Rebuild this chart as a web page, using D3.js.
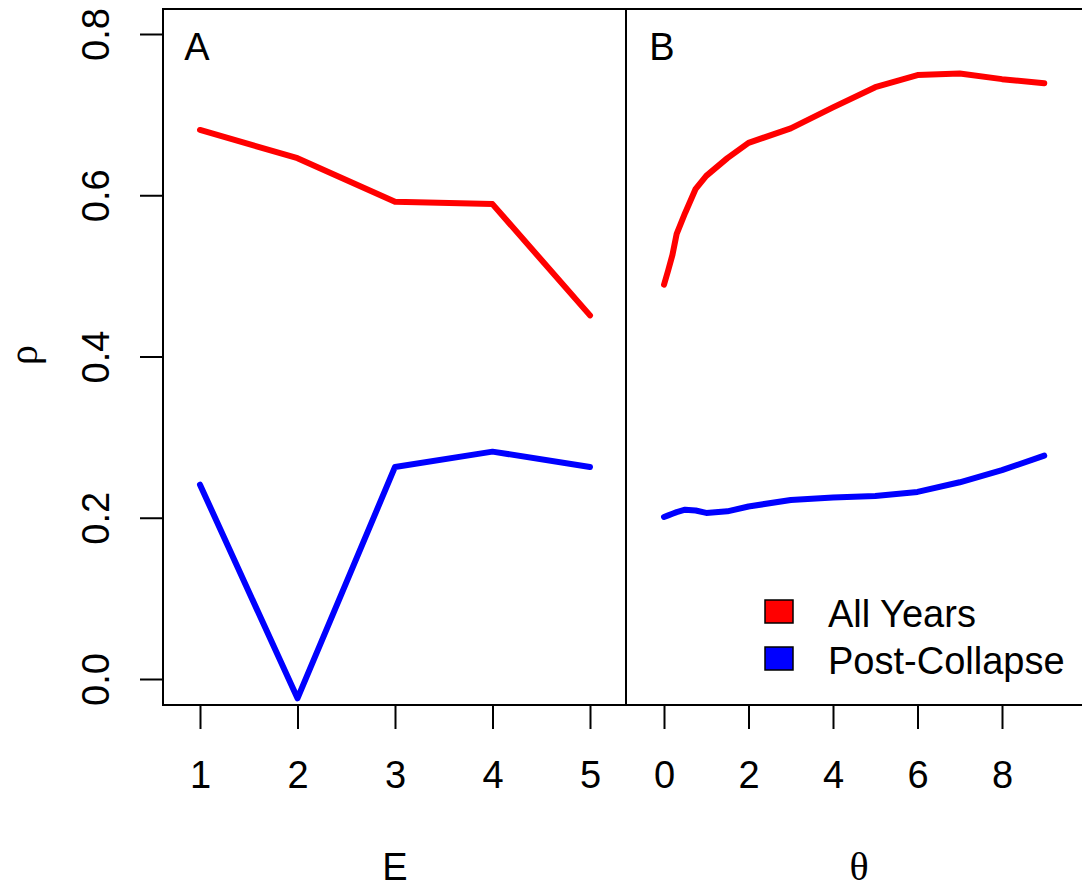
<!DOCTYPE html>
<html>
<head>
<meta charset="utf-8">
<script src="https://cdn.jsdelivr.net/npm/d3@7"></script>
<style>
  body { margin: 0; background: #fff; }
  svg { display: block; }
  text { font-family: "Liberation Sans", Arial, sans-serif; fill: #000; }
</style>
</head>
<body>
<svg id="chart" width="1082" height="888"></svg>
<script>
// panel A: embedding dimension E
var eValues = [1, 2, 3, 4, 5];
var eAllYears = [0.681, 0.646, 0.592, 0.589, 0.451];
var ePostCollapse = [0.241, -0.024, 0.263, 0.282, 0.263];

// panel B: nonlinearity theta
var thetaValues = [0, 0.1, 0.2, 0.3, 0.5, 0.75, 1, 1.5, 2, 3, 4, 5, 6, 7, 8, 9];
var thetaAllYears = [0.489, 0.507, 0.526, 0.552, 0.578, 0.608, 0.624, 0.646, 0.665, 0.683, 0.709, 0.734, 0.749, 0.751, 0.744, 0.739];
var thetaPostCollapse = [0.201, 0.203, 0.205, 0.207, 0.210, 0.209, 0.206, 0.208, 0.214, 0.222, 0.225, 0.227, 0.232, 0.244, 0.259, 0.277];

var yTicks = [0, 0.2, 0.4, 0.6, 0.8];
var eTicks = [1, 2, 3, 4, 5];
var thetaTicks = [0, 2, 4, 6, 8];

var seriesNames = ['All Years', 'Post-Collapse'];
var seriesColors = ['#ff0000', '#0000ff'];

var svg = d3.select('#chart');

// plot box (right edge sits just past the window, as in the original)
let boxLeft = 163, boxTop = 9, boxBottom = 705, boxMid = 626, boxRight = 1083;

let y = d3.scaleLinear().domain([0, 0.8]).range([679, 34]);
let xA = d3.scaleLinear().domain([1, 5]).range([200, 590]);
let xB = d3.scaleLinear().domain([0, 8]).range([664, 1002]);

// frame and divider
svg.append('rect')
	.attr('x', boxLeft).attr('y', boxTop)
	.attr('width', boxRight - boxLeft).attr('height', boxBottom - boxTop)
	.attr('fill', 'none').attr('stroke', '#000').attr('stroke-width', 2);
svg.append('line')
	.attr('x1', boxMid).attr('x2', boxMid).attr('y1', boxTop).attr('y2', boxBottom)
	.attr('stroke', '#000').attr('stroke-width', 2);

// y axis, labels rotated like base R
let yAxis = svg.append('g')
	.attr('transform', `translate(${boxLeft},0)`)
	.call(d3.axisLeft(y).tickValues(yTicks).tickSize(23).tickFormat(d3.format('.1f')));
yAxis.select('.domain').remove();
yAxis.selectAll('line').attr('stroke', '#000').attr('stroke-width', 2);
yAxis.selectAll('text')
	.attr('x', null).attr('dy', null)
	.attr('transform', 'translate(-54,0) rotate(-90)')
	.attr('text-anchor', 'middle')
	.style('font-size', '38px')
	.style('font-family', '"Liberation Sans", Arial, sans-serif');

function bottomAxis(scale, ticks) {
	let g = svg.append('g')
		.attr('transform', `translate(0,${boxBottom})`)
		.call(d3.axisBottom(scale).tickValues(ticks).tickSize(24).tickFormat(d3.format('d')));
	g.select('.domain').remove();
	g.selectAll('line').attr('stroke', '#000').attr('stroke-width', 2);
	g.selectAll('text')
		.attr('y', 83).attr('dy', null)
		.style('font-size', '38px')
		.style('font-family', '"Liberation Sans", Arial, sans-serif');
}
bottomAxis(xA, eTicks);
bottomAxis(xB, thetaTicks);

// lines
function drawLine(xs, ys, scale, color) {
	let pts = xs.map((d, i) => [d, ys[i]]);
	let line = d3.line().x(d => scale(d[0])).y(d => y(d[1]));
	svg.append('path')
		.datum(pts)
		.attr('d', line)
		.attr('fill', 'none')
		.attr('stroke', color)
		.attr('stroke-width', 6)
		.attr('stroke-linejoin', 'round')
		.attr('stroke-linecap', 'round');
}
drawLine(eValues, eAllYears, xA, seriesColors[0]);
drawLine(eValues, ePostCollapse, xA, seriesColors[1]);
drawLine(thetaValues, thetaAllYears, xB, seriesColors[0]);
drawLine(thetaValues, thetaPostCollapse, xB, seriesColors[1]);

// panel letters
svg.append('text').attr('x', 197).attr('y', 60).attr('text-anchor', 'middle')
	.style('font-size', '38px').text('A');
svg.append('text').attr('x', 662).attr('y', 60).attr('text-anchor', 'middle')
	.style('font-size', '38px').text('B');

// axis titles
svg.append('text').attr('x', 395).attr('y', 880).attr('text-anchor', 'middle')
	.style('font-size', '38px').text('E');
svg.append('text').attr('x', 859).attr('y', 880).attr('text-anchor', 'middle')
	.style('font-size', '40px').style('font-family', '"Liberation Serif", "DejaVu Serif", serif')
	.text('θ');
svg.append('text').attr('transform', 'translate(37,355) rotate(-90)').attr('text-anchor', 'middle')
	.style('font-size', '40px').style('font-family', '"Liberation Serif", "DejaVu Serif", serif')
	.text('ρ');

// legend
let legend = svg.append('g');
seriesNames.forEach((name, i) => {
	let ly = 600 + i * 47;
	legend.append('rect')
		.attr('x', 765).attr('y', ly)
		.attr('width', 28).attr('height', 23)
		.attr('fill', seriesColors[i])
		.attr('stroke', '#000').attr('stroke-width', 1.5);
	legend.append('text')
		.attr('x', 828).attr('y', ly + 27)
		.style('font-size', '38px')
		.text(name);
});
</script>
</body>
</html>
